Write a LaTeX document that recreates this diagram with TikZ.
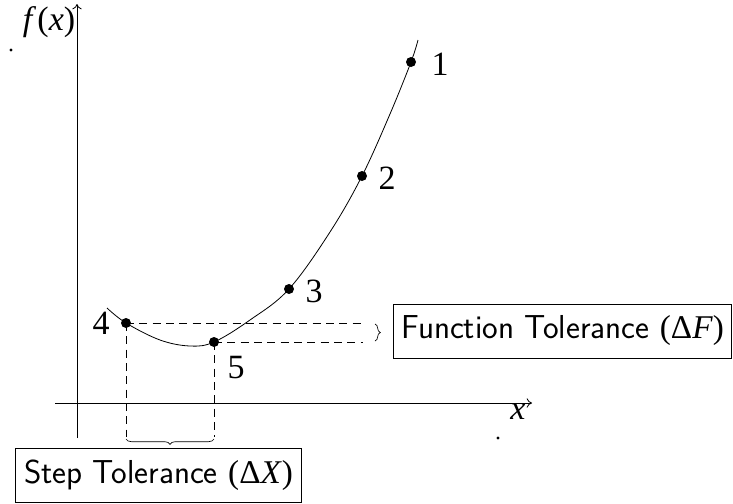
\documentclass[tikz,border=0pt]{standalone}
\usepackage{fontspec}
\setmainfont{Liberation Serif}
\usetikzlibrary{decorations.pathreplacing,arrows.meta}
\begin{document}
\begin{tikzpicture}[x=0.75pt,y=-0.75pt,
  dotpt/.style={circle,fill=black,inner sep=0pt,minimum size=7.5pt},
  smalldot/.style={circle,fill=black,inner sep=0pt,minimum size=2.6pt},
  lbl/.style={font=\fontsize{25.5}{28}\selectfont,inner sep=0pt},
  tolbox/.style={draw,line width=0.6pt,font=\fontsize{24.88}{28}\selectfont\sffamily,inner sep=0pt},
  dsh/.style={dash pattern=on 6pt off 4pt,line width=0.5pt},
  axis/.style={line width=0.6pt,-{To[length=4pt,width=7pt]}},
  brc/.style={decorate,decoration={brace,amplitude=4pt},line width=0.5pt}]
\useasboundingbox (0,0) rectangle (733,504);
% axes
\coordinate (yb) at (77,438);
\coordinate (yt) at (77,4);
\coordinate (xl) at (55,403);
\coordinate (xr) at (532,403);
\draw[axis] (yb) -- (yt);
\draw[axis] (xl) -- (xr);
\node[lbl] (fx) at (49,22) {\textit{f\/}\kern1pt(\textit{x\/})};
\node[lbl] (xlab) at (518,412) {\textit{x}};
\node[smalldot] (d1) at (11,50) {};
\node[smalldot] (d2) at (498,438) {};
% curve
\draw[line width=0.6pt] plot[smooth,tension=0.6] coordinates {(107,308) (126,323) (160,340) (190,346) (214,342) (250,320) (289,289) (330,232) (362,176) (390,114) (411,62) (418,40)};
% points
\node[dotpt] (p1) at (411,62) {};
\node[dotpt] (p2) at (362,176) {};
\node[dotpt] (p3) at (289,289) {};
\node[dotpt] (p4) at (126,323) {};
\node[dotpt] (p5) at (214,342) {};
\node[lbl] (l1) at (440,64) {1};
\node[lbl] (l2) at (387,178) {2};
\node[lbl] (l3) at (314,291) {3};
\node[lbl] (l4) at (101,323) {4};
\node[lbl] (l5) at (236,368) {5};
% dashed guides
\coordinate (h4) at (363,323);
\coordinate (h5) at (363,342);
\coordinate (v4) at (126,437);
\coordinate (v5) at (214,437);
\draw[dsh] (p4.center) -- (h4);
\draw[dsh] (p5.center) -- (h5);
\draw[dsh] (p4.center) -- (v4);
\draw[dsh] (p5.center) -- (v5);
% braces
\coordinate (b1) at (375,324);
\coordinate (b2) at (375,341);
\draw[brc] (b1) -- (b2);
\coordinate (b3) at (126,439);
\coordinate (b4) at (214,439);
\draw[brc,decoration={mirror}] (b3) -- (b4);
% boxes
\node[tolbox,minimum width=254pt,minimum height=40.5pt] (ftol) at (562.5,331) {Function Tolerance {\rmfamily(Δ\textit{F})}};
\node[tolbox,minimum width=215pt,minimum height=40pt] (stol) at (158.5,475.5) {Step Tolerance {\rmfamily(Δ\textit{X})}};
\end{tikzpicture}
\end{document}
